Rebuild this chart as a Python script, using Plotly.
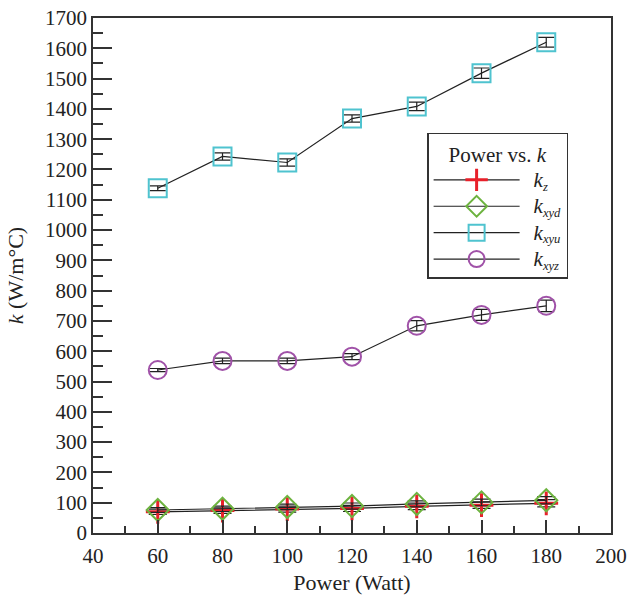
import plotly.graph_objects as go

power = [60, 80, 100, 120, 140, 160, 180]

k_z = [70, 74, 79, 81, 88, 92, 98]
k_z_err = [9, 9, 10, 10, 11, 11, 12]

k_xyd = [76, 80, 86, 89, 96, 101, 108]
k_xyd_err = [8, 9, 9, 10, 10, 11, 12]

k_xyu = [1138, 1243, 1223, 1368, 1408, 1518, 1620]
k_xyu_err = [8, 12, 12, 12, 14, 17, 16]

k_xyz = [538, 568, 568, 582, 684, 720, 750]
k_xyz_err = [5, 9, 9, 10, 17, 18, 19]

NB = "\u00a0"
def lab(sub):
    return NB + NB + "<i><span style='font-size:21px'>k</span><sub>" + sub + "</sub></i>"

series = [
    (lab("z"), k_z, k_z_err, "cross-thin-open", "#E8202A", 17, 3, 9),
    (lab("xyd"), k_xyd, k_xyd_err, "diamond-open", "#6DB33F", 17, 2, 9),
    (lab("xyu"), k_xyu, k_xyu_err, "square-open", "#4FC3CF", 18, 2, 8),
    (lab("xyz"), k_xyz, k_xyz_err, "circle-open", "#A052A8", 18, 2, 8),
]

font = "Liberation Serif"

fig = go.Figure()
for name, y, err, sym, col, size, lw, cap in series:
    fig.add_trace(go.Scatter(
        x=power, y=y, name=name, mode="lines+markers",
        line=dict(color="#222222", width=1.2),
        marker=dict(symbol=sym, size=size, color=col, line=dict(color=col, width=lw)),
        error_y=dict(type="data", array=err, visible=True, color="#222222",
                     thickness=1.2, width=cap),
    ))

axis_common = dict(
    showline=True, linecolor="#333333", linewidth=1.5, mirror=True,
    ticks="inside", tickcolor="#333333", showgrid=False, zeroline=False,
    automargin=False,
    tickfont=dict(family=font, size=21, color="#222222"),
)

fig.update_xaxes(
    range=[40, 200], dtick=20, tick0=40, ticklen=13, tickwidth=1.5,
    ticklabelstandoff=3,
    minor=dict(ticks="inside", dtick=10, ticklen=7, tickcolor="#333333", tickwidth=1.5),
    title=dict(text="Power (Watt)", font=dict(family=font, size=22, color="#222222"), standoff=8),
    **axis_common,
)
fig.update_yaxes(
    range=[0, 1700], dtick=100, tick0=0, ticklen=19, tickwidth=1.5,
    minor=dict(ticks="inside", dtick=50, ticklen=10, tickcolor="#333333", tickwidth=1.5),
    title=dict(text="<i>k</i> (W/m°C)", font=dict(family=font, size=22, color="#222222"), standoff=15),
    **axis_common,
)

fig.update_layout(
    width=627, height=597,
    margin=dict(l=93, r=16, t=18, b=64),
    paper_bgcolor="white", plot_bgcolor="white",
    font=dict(family=font, color="#222222"),
    showlegend=True,
    legend=dict(
        x=0.645, y=0.777, xanchor="left", yanchor="top",
        bgcolor="white", bordercolor="#333333", borderwidth=1.5,
        title=dict(text="Power vs. <i>k</i>", font=dict(family=font, size=21), side="top center"),
        font=dict(family=font, size=18, color="#222222"),
        itemwidth=86, tracegroupgap=0,
    ),
)

fig.write_html(
    "out.html",
    config={"displayModeBar": False},
    post_script="document.body.style.margin='0';document.body.style.overflow='hidden';",
)
